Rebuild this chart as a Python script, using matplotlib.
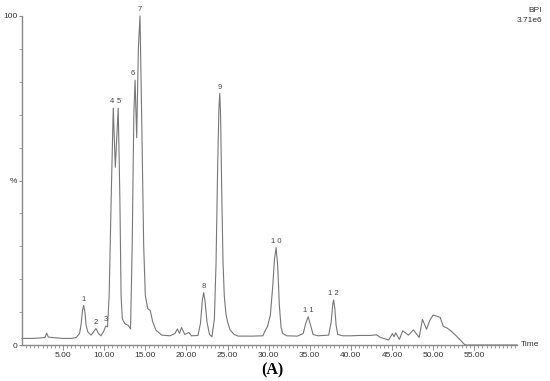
import matplotlib
matplotlib.use("Agg")
import matplotlib.pyplot as plt
import numpy as np

# Traced chromatogram (time in min, relative intensity %)
times = [0.0, 1.0, 2.0, 2.8, 3.0, 3.2, 4.0, 5.0, 6.0, 6.6, 7.0, 7.2, 7.35, 7.5, 7.65, 7.8, 8.0,
         8.4, 8.7, 9.0, 9.3, 9.6, 9.9, 10.2, 10.4, 10.6, 10.85, 11.1, 11.35, 11.7, 11.9,
         12.05, 12.2, 12.5, 12.9, 13.2, 13.4, 13.6, 13.75, 13.95, 14.15, 14.35, 14.55,
         14.8, 15.0, 15.3, 15.6, 15.9, 16.3, 17.0, 18.0, 18.6, 18.9, 19.15, 19.4, 19.8,
         20.3, 20.6, 21.4, 21.7, 21.95, 22.1, 22.25, 22.5, 22.8, 23.1, 23.4, 23.6, 23.8,
         23.95, 24.05, 24.15, 24.3, 24.45, 24.6, 24.8, 25.0, 25.3, 25.8, 26.3, 27.0, 28.0,
         29.3, 29.6, 29.85, 30.2, 30.5, 30.7, 30.9, 31.1, 31.3, 31.5, 31.7, 32.2, 33.5,
         34.2, 34.5, 34.8, 35.1, 35.4, 36.0, 37.3, 37.6, 37.8, 37.9, 38.05, 38.2, 38.4,
         39.0, 40.0, 41.0, 42.3, 43.1, 43.6, 44.6, 45.05, 45.25, 45.45, 45.9, 46.3, 47.0,
         47.6, 48.3, 48.7, 49.2, 49.6, 50.0, 50.4, 50.85, 51.25, 51.6, 51.9, 52.2, 52.5,
         52.8, 53.1, 53.5, 53.8, 54.0, 60.2]
intensity = [2.0, 2.0, 2.1, 2.3, 3.6, 2.4, 2.2, 2.0, 2.0, 2.3, 3.5, 6.5, 10.5, 12.0, 10.0, 6.0, 4.0,
             3.0, 4.0, 5.0, 3.5, 2.8, 4.0, 5.8, 5.5, 15.0, 45.0, 72.0, 54.0, 72.0, 45.0,
             15.0, 8.0, 6.5, 6.0, 4.9, 30.0, 70.0, 80.5, 63.0, 90.0, 100.0, 70.0,
             30.0, 15.0, 11.0, 10.5, 7.0, 4.5, 3.0, 2.8, 3.5, 4.9, 3.5, 5.3, 3.2,
             3.8, 2.8, 2.9, 6.5, 14.0, 15.9, 13.5, 7.0, 3.2, 2.5, 8.0, 25.0, 55.0,
             72.0, 76.5, 70.0, 45.0, 25.0, 15.0, 9.5, 7.0, 4.6, 3.2, 2.7, 2.7, 2.7,
             2.8, 4.5, 5.6, 9.0, 18.0, 26.0, 29.6, 24.0, 12.0, 5.5, 3.5, 2.8, 2.7,
             3.5, 6.5, 8.6, 6.0, 3.2, 2.8, 3.0, 7.0, 12.5, 13.7, 11.0, 6.0, 3.2,
             2.8, 2.8, 2.9, 2.9, 3.1, 2.3, 1.5, 3.5, 2.5, 3.7, 1.7, 4.3, 3.0,
             4.6, 2.3, 7.8, 4.8, 7.5, 9.1, 8.8, 8.4, 5.6, 5.3, 4.8, 4.2, 3.5,
             2.8, 2.0, 1.0, 0.2, 0.0, 0.0]

# Peak labels
peak_labels = ["1", "2", "3", "4", "5", "6", "7", "8", "9", "1 0", "1 1", "1 2"]
peak_label_t = [7.5, 9.0, 10.2, 10.9, 11.8, 13.5, 14.35, 22.1, 24.05, 30.9, 34.8, 37.9]
peak_label_v = [12.0, 5.0, 5.8, 72.0, 72.0, 80.5, 100.0, 15.9, 76.5, 29.6, 8.6, 13.7]

x_ticks = [5, 10, 15, 20, 25, 30, 35, 40, 45, 50, 55]
x_ticklabels = ["5.00", "10.00", "15.00", "20.00", "25.00", "30.00", "35.00",
                "40.00", "45.00", "50.00", "55.00"]

W, H = 550, 381
fig = plt.figure(figsize=(5.5, 3.81), dpi=100)
ax = fig.add_axes([22 / W, 36 / H, (517 - 22) / W, (345 - 16) / H])

line_color = "#777777"
ax.plot(times, intensity, color=line_color, lw=0.8, clip_on=False)

ax.set_xlim(0, 60.2)
ax.set_ylim(0, 100)

for s in ["top", "right"]:
    ax.spines[s].set_visible(False)
for s in ["left", "bottom"]:
    ax.spines[s].set_color("#888888")
    ax.spines[s].set_linewidth(1.0)

ax.set_xticks(x_ticks)
ax.set_xticklabels(x_ticklabels, fontsize=6, family="Liberation Sans", color="#333333")
ax.set_xticks(np.arange(0.5, 60.2, 0.5), minor=True)
ax.tick_params(axis="x", which="major", length=3.5, width=0.6, color="#777777", pad=1.5)
ax.tick_params(axis="x", which="minor", length=1.8, width=0.5, color="#777777")

ax.set_yticks([0, 50, 100])
ax.set_yticklabels(["0", "%", "100"], fontsize=6, family="Liberation Sans", color="#333333")
ax.set_yticks(np.arange(10, 100, 10), minor=True)
ax.tick_params(axis="y", which="major", length=2.5, width=0.6, color="#777777", pad=1)
ax.tick_params(axis="y", which="minor", length=2.0, width=0.5, color="#777777")

for lab, t, v in zip(peak_labels, peak_label_t, peak_label_v):
    ax.annotate(lab, (t, v), xytext=(0, 2), textcoords="offset points",
                ha="center", va="bottom", fontsize=5.5, family="Liberation Sans",
                color="#444444", annotation_clip=False)

fig.text(521 / W, 1 - 345 / H, "Time", fontsize=6, family="Liberation Sans",
         color="#333333", ha="left", va="center")
fig.text(542 / W, 1 - 11 / H, "BPI", fontsize=6, family="Liberation Sans",
         color="#333333", ha="right", va="center")
fig.text(542 / W, 1 - 20 / H, "3.71e6", fontsize=6, family="Liberation Sans",
         color="#333333", ha="right", va="center")
fig.text(272 / W, 1 - 370 / H, "(A)", fontsize=11.5, family="Liberation Serif",
         fontweight="bold", color="black", ha="center", va="center")

fig.savefig("out.png", dpi=100)
